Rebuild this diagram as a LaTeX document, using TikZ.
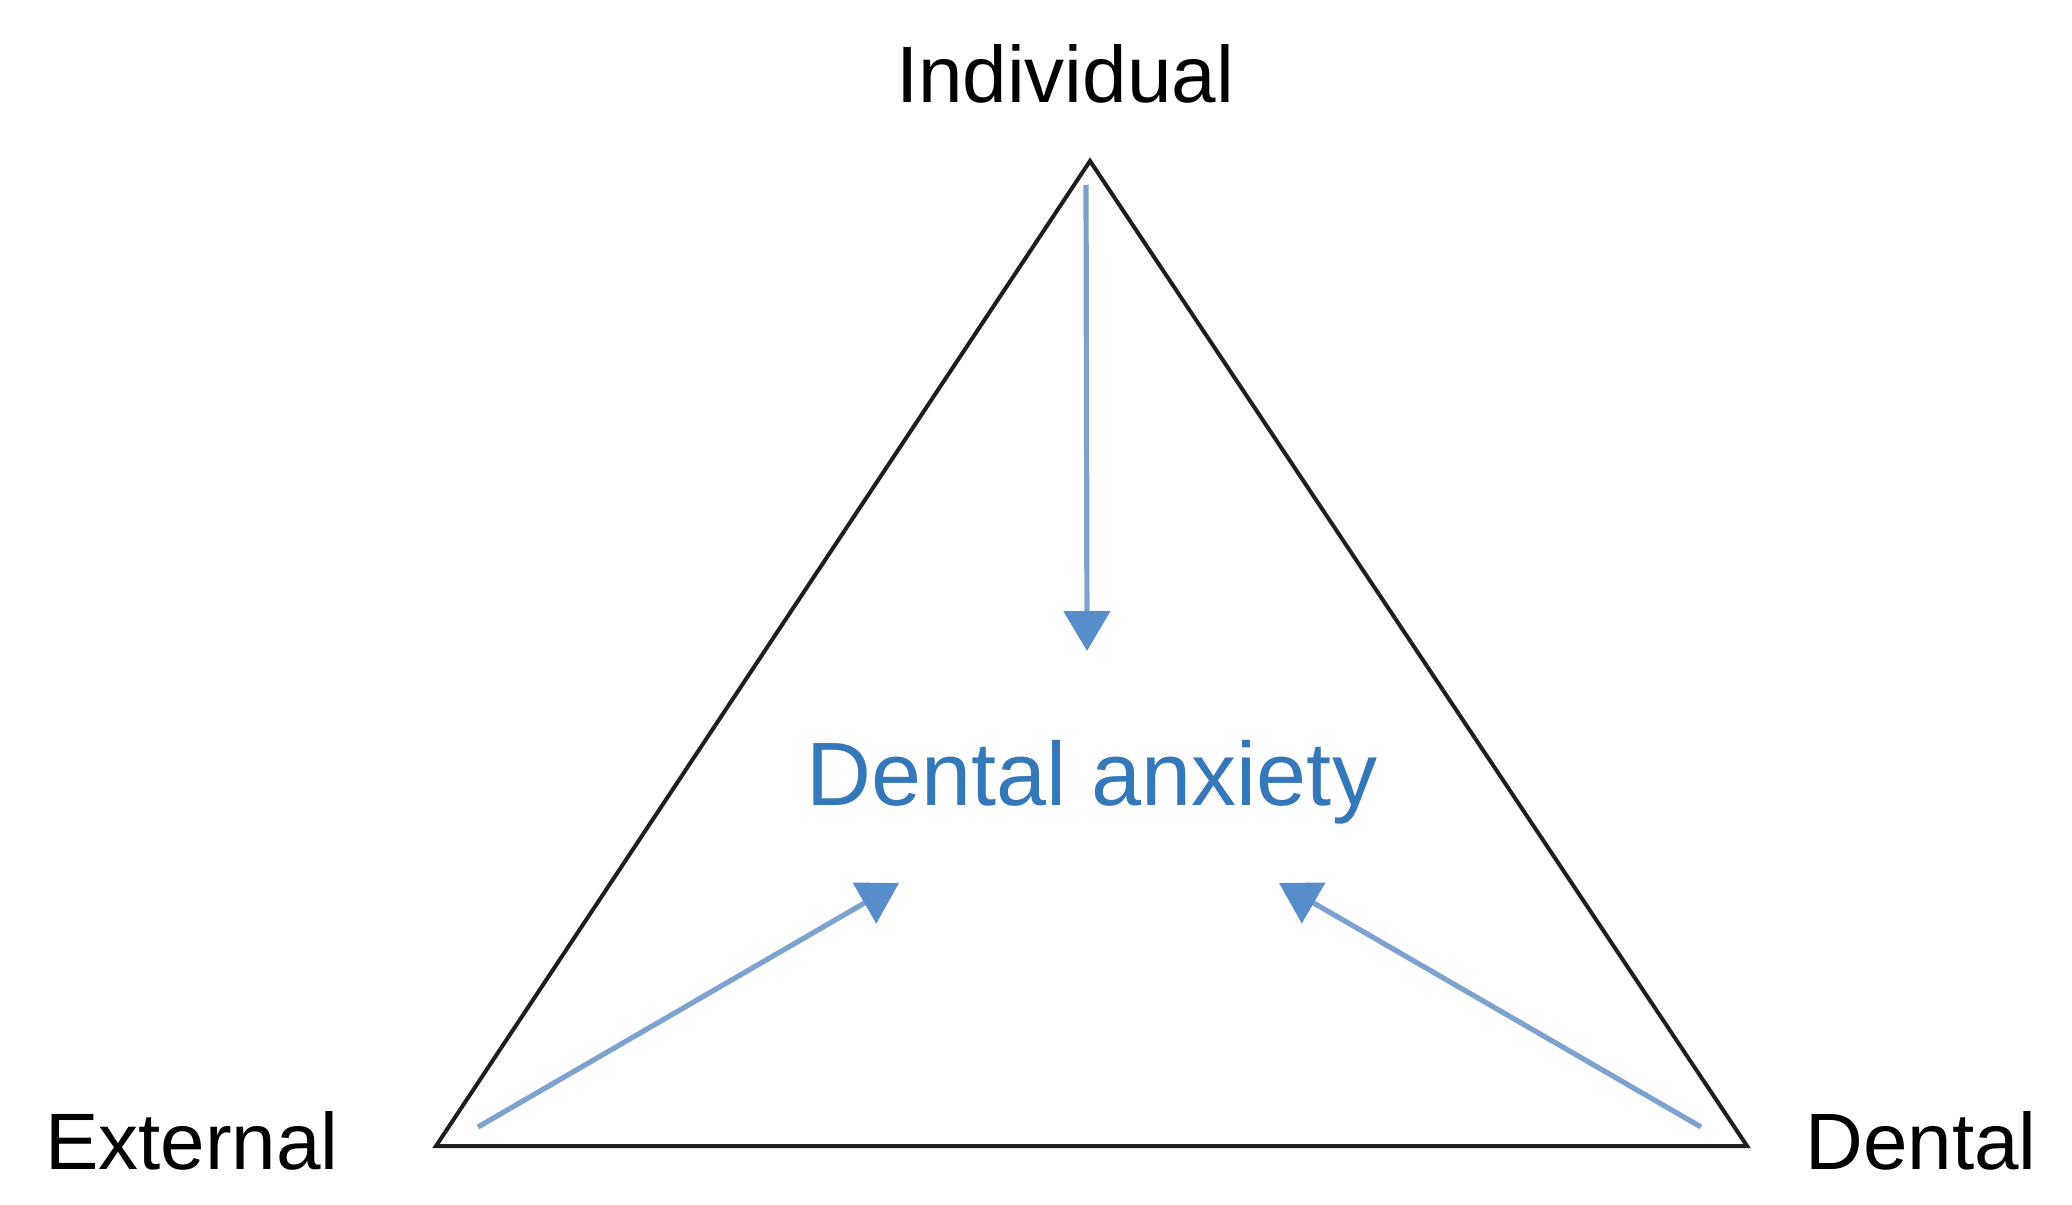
\documentclass[tikz,border=0pt]{standalone}
\usepackage{fontspec}
\setmainfont{Liberation Sans}
\usetikzlibrary{arrows.meta}
\definecolor{triline}{RGB}{30,30,30}
\definecolor{arrline}{RGB}{125,162,208}
\definecolor{arrhead}{RGB}{88,141,204}
\definecolor{centertext}{RGB}{52,120,186}
\tikzset{
  tri/.style={draw=triline, line width=1pt, line join=miter},
  lbl/.style={inner sep=0pt, anchor=base, font=\fontsize{20}{24}\selectfont, text=black},
  ctr/.style={inner sep=0pt, anchor=base, font=\fontsize{22.5}{27}\selectfont, text=centertext},
  flow/.style={draw=arrline, line width=1.3pt, -{Triangle[length=10pt, width=11.5pt, color=arrhead]}}
}
\begin{document}
\begin{tikzpicture}[x=0.25pt, y=-0.25pt]
\useasboundingbox (0,0) rectangle (2072,1205);
\fill[white] (0,0) rectangle (2072,1205);
\coordinate (apex) at (1090,161);
\coordinate (bl) at (436,1146);
\coordinate (br) at (1747,1146);
\draw[tri] (apex) -- (bl) -- (br) -- cycle;
\node[lbl] (individual) at (1065,103) {Individual};
\node[lbl] (external) at (192,1169) {External};
\node[lbl] (dental) at (1921,1169) {Dental};
\node[ctr] (anxiety) at (1092,806) {Dental anxiety};
\coordinate (s1) at (1086,185);
\coordinate (t1) at (1087,651);
\coordinate (s2) at (478,1127);
\coordinate (t2) at (899,883);
\coordinate (s3) at (1701,1127);
\coordinate (t3) at (1279,883);
\draw[flow] (s1) -- (t1);
\draw[flow] (s2) -- (t2);
\draw[flow] (s3) -- (t3);
\end{tikzpicture}
\end{document}
